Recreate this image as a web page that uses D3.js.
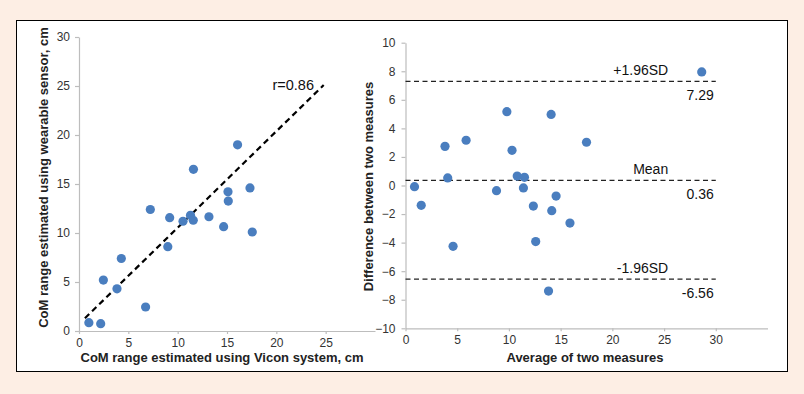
<!DOCTYPE html>
<html>
<head>
<meta charset="utf-8">
<script src="https://cdn.jsdelivr.net/npm/d3@7"></script>
<style>
  html, body { margin: 0; padding: 0; background: #fdeee4; }
  svg { display: block; }
  text { font-family: "Liberation Sans", Arial, sans-serif; }
</style>
</head>
<body>
<svg id="chart" width="804" height="394"></svg>
<script>
// ---------- Data ----------
// Left panel: CoM range, Vicon (x) vs wearable sensor (y), cm
const viconX = [1.0, 2.2, 2.47, 3.85, 4.29, 6.75, 7.23, 9.0, 9.19, 10.54, 11.3, 11.58, 11.6, 13.17, 14.66, 15.1, 15.13, 16.07, 17.33, 17.56];
const sensorY = [0.85, 0.75, 5.2, 4.3, 7.4, 2.45, 12.4, 8.6, 11.56, 11.2, 11.8, 11.3, 16.5, 11.66, 10.65, 14.2, 13.26, 19.0, 14.6, 10.1];
const fitLineX = [0.6, 24.8];
const fitLineY = [1.3, 25.1];
const rLabel = "r=0.86";
const leftXTicks = [0, 5, 10, 15, 20, 25];
const leftYTicks = [0, 5, 10, 15, 20, 25, 30];

// Right panel: Bland-Altman
const avgX = [0.87, 1.52, 3.82, 4.08, 4.6, 5.86, 8.8, 9.8, 10.3, 10.8, 11.5, 11.4, 12.36, 12.59, 13.83, 14.08, 14.14, 14.56, 15.9, 17.5, 28.64];
const diffY = [-0.08, -1.39, 2.74, 0.53, -4.26, 3.17, -0.36, 5.17, 2.46, 0.66, 0.57, -0.17, -1.44, -3.93, -7.39, 4.98, -1.76, -0.74, -2.63, 3.03, 7.95];
const refValues = [7.29, 0.36, -6.56];
const refNames = ["+1.96SD", "Mean", "-1.96SD"];
const refValueLabels = ["7.29", "0.36", "-6.56"];
const rightXTicks = [0, 5, 10, 15, 20, 25, 30];
const rightYTicks = [-10, -8, -6, -4, -2, 0, 2, 4, 6, 8, 10];

// ---------- Drawing ----------
const svg = d3.select("#chart");
const dotColor = "#4a7ebf";
const axisColor = "#bdbdbd";
const tickText = "#333";

svg.append("rect").attr("x", 16.5).attr("y", 20.5).attr("width", 771).attr("height", 351)
  .attr("fill", "#ffffff").attr("stroke", "#000").attr("stroke-width", 1);

function styleAxis(g) {
  g.select(".domain").attr("stroke", axisColor).attr("stroke-width", 1.2);
  g.selectAll(".tick line").attr("stroke", axisColor).attr("stroke-width", 1.2);
  g.selectAll(".tick text").attr("fill", tickText).attr("font-size", "12px")
    .attr("font-family", "'Liberation Sans', Arial, sans-serif");
}

// Left panel
const xL = d3.scaleLinear().domain([0, 30]).range([79, 375]);
const yL = d3.scaleLinear().domain([0, 30]).range([331, 37]);

svg.append("g").attr("transform", `translate(0,${yL(0)})`)
  .call(d3.axisBottom(xL).tickValues(leftXTicks).tickSize(3).tickSizeOuter(0).tickPadding(4))
  .call(styleAxis);
svg.append("g").attr("transform", `translate(${xL(0)},0)`)
  .call(d3.axisLeft(yL).tickValues(leftYTicks).tickSize(4).tickSizeOuter(0).tickPadding(5))
  .call(styleAxis);

svg.append("line")
  .attr("x1", xL(fitLineX[0])).attr("y1", yL(fitLineY[0]))
  .attr("x2", xL(fitLineX[1])).attr("y2", yL(fitLineY[1]))
  .attr("stroke", "#000").attr("stroke-width", 2.2).attr("stroke-dasharray", "6,4");

svg.append("g").selectAll("circle").data(viconX).join("circle")
  .attr("cx", d => xL(d)).attr("cy", (d, i) => yL(sensorY[i])).attr("r", 4.6)
  .attr("fill", dotColor);

svg.append("text").attr("x", 314).attr("y", 90).attr("text-anchor", "end")
  .attr("font-size", "14.5px").attr("fill", "#111").text(rLabel);

svg.append("text").attr("x", 222).attr("y", 361.5).attr("text-anchor", "middle")
  .attr("font-size", "13px").attr("font-weight", "bold").attr("fill", "#222")
  .text("CoM range estimated using Vicon system, cm");
svg.append("text").attr("transform", "translate(47.5,177.5) rotate(-90)").attr("text-anchor", "middle")
  .attr("font-size", "13px").attr("font-weight", "bold").attr("fill", "#222")
  .text("CoM range estimated using wearable sensor, cm");

// Right panel
const xR = d3.scaleLinear().domain([0, 35]).range([405.5, 767.5]);
const yR = d3.scaleLinear().domain([-10, 10]).range([328.3, 42.7]);

svg.append("g").attr("transform", `translate(0,${yR(-10)})`)
  .call(d3.axisBottom(xR).tickValues(rightXTicks).tickSize(3).tickSizeOuter(0).tickPadding(4))
  .call(styleAxis);
svg.append("g").attr("transform", `translate(${xR(0)},0)`)
  .call(d3.axisLeft(yR).tickValues(rightYTicks).tickSize(4).tickSizeOuter(0).tickPadding(6))
  .call(styleAxis);

refValues.forEach((v, i) => {
  svg.append("line").attr("x1", xR(0)).attr("x2", xR(30)).attr("y1", yR(v)).attr("y2", yR(v))
    .attr("stroke", "#222").attr("stroke-width", 1.3).attr("stroke-dasharray", "5,3.5");
  svg.append("text").attr("x", xR(25.4)).attr("y", yR(v) - 6).attr("text-anchor", "end")
    .attr("font-size", "14px").attr("fill", "#111").text(refNames[i]);
  svg.append("text").attr("x", xR(29.8)).attr("y", yR(v) + 19).attr("text-anchor", "end")
    .attr("font-size", "14px").attr("fill", "#111").text(refValueLabels[i]);
});

svg.append("g").selectAll("circle").data(avgX).join("circle")
  .attr("cx", d => xR(d)).attr("cy", (d, i) => yR(diffY[i])).attr("r", 4.6)
  .attr("fill", dotColor);

svg.append("text").attr("x", 585).attr("y", 361.5).attr("text-anchor", "middle")
  .attr("font-size", "13px").attr("font-weight", "bold").attr("fill", "#222")
  .text("Average of two measures");
svg.append("text").attr("transform", "translate(372.5,186.5) rotate(-90)").attr("text-anchor", "middle")
  .attr("font-size", "13px").attr("font-weight", "bold").attr("fill", "#222")
  .text("Difference between two measures");
</script>
</body>
</html>
